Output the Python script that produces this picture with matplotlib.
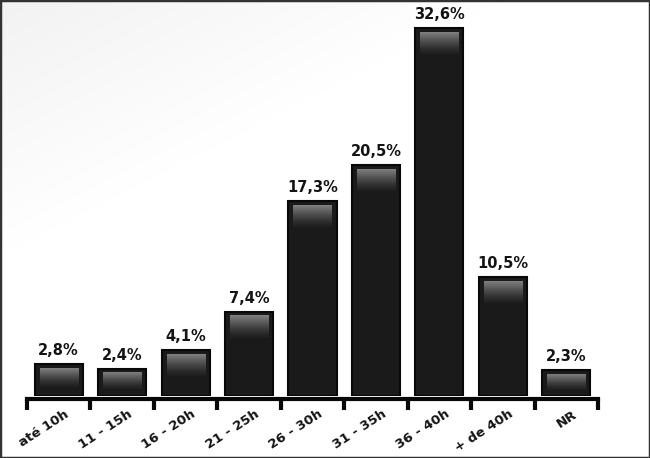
import numpy as np
import matplotlib
matplotlib.use("Agg")
import matplotlib.pyplot as plt
from matplotlib.colors import LinearSegmentedColormap
from matplotlib.patches import Rectangle

# dados
faixas = ['até 10h', '11 - 15h', '16 - 20h', '21 - 25h', '26 - 30h',
          '31 - 35h', '36 - 40h', '+ de 40h', 'NR']
percentuais = [2.8, 2.4, 4.1, 7.4, 17.3, 20.5, 32.6, 10.5, 2.3]
rotulos = ['2,8%', '2,4%', '4,1%', '7,4%', '17,3%', '20,5%', '32,6%', '10,5%', '2,3%']

W, H = 650, 458
fig = plt.figure(figsize=(W / 100, H / 100), dpi=100)
fig.patch.set_facecolor('white')

# fundo com leve degrade no canto superior esquerdo
bg = fig.add_axes([0, 0, 1, 1], zorder=-10)
yy, xx = np.mgrid[0:1:200j, 0:1:280j]
grad = np.clip(1.0 - (xx * 1.3 + yy * 1.8), 0, 1)
bg_cmap = LinearSegmentedColormap.from_list('bg', ['#ffffff', '#f2f2f2'])
bg.imshow(grad, cmap=bg_cmap, aspect='auto', extent=[0, 1, 0, 1], origin='upper')
bg.set_axis_off()

# eixo principal (em pixels: x 27..598, base em y=396, 11.29 px por %)
px_por_pct = 11.29
ax = fig.add_axes([27 / W, (H - 396) / H, 571 / W, 386 / H])
ax.set_facecolor('none')
ax.set_xlim(-0.5, len(faixas) - 0.5)
ax.set_ylim(0, 386 / px_por_pct)

x = np.arange(len(faixas))
largura = 0.76
ax.bar(x, percentuais, width=largura, color='#1a1a1a', edgecolor='#080808',
       linewidth=1.5, zorder=2)

# brilho no topo de cada barra
brilho = LinearSegmentedColormap.from_list('brilho', ['#1f1f1f', '#808080'])
grad_v = np.linspace(0, 1, 64).reshape(-1, 1) ** 1.3
dx = 5 / 63.4
for xi, v in zip(x, percentuais):
    topo = v - 4 / px_por_pct
    alt = min(22 / px_por_pct, v * 0.6)
    ax.imshow(grad_v, cmap=brilho, aspect='auto', origin='lower', zorder=3,
              extent=[xi - largura / 2 + dx, xi + largura / 2 - dx, topo - alt, topo])

# rotulos de valor
for xi, v, r in zip(x, percentuais, rotulos):
    ax.annotate(r, xy=(xi, v), xytext=(0, 9), textcoords='offset pixels',
                ha='center', va='baseline', fontsize=10.5, fontweight='bold',
                color='#141414')

# eixo x
for s in ['left', 'right', 'top']:
    ax.spines[s].set_visible(False)
ax.spines['bottom'].set_linewidth(3)
ax.spines['bottom'].set_color('#080808')
ax.spines['bottom'].set_position(('outward', 2))
ax.set_yticks([])
ax.set_xticks([])
ax.set_xticks(np.arange(-0.5, len(faixas)), minor=True)
ax.tick_params(axis='x', which='minor', length=8, width=3, color='#080808',
               direction='out')

for xi, f in zip(x, faixas):
    ax.annotate(f, xy=(xi, 0), xytext=(9, -17), textcoords='offset pixels',
                ha='right', va='center', rotation=33, rotation_mode='anchor',
                fontsize=9.5, fontweight='bold', color='#141414',
                annotation_clip=False)

# moldura da imagem
fig.patches.append(Rectangle((0, 0), 1, 1, transform=fig.transFigure,
                             fill=False, edgecolor='#333333', linewidth=2.5))

fig.savefig('out.png', dpi=100)
